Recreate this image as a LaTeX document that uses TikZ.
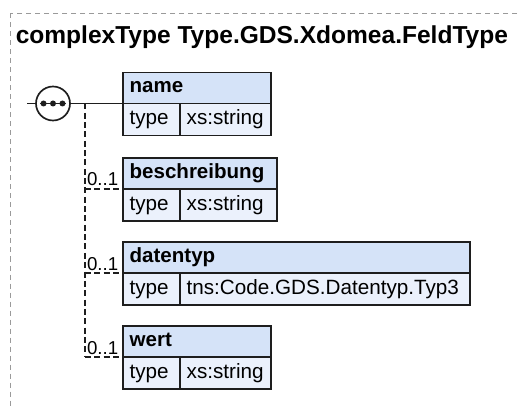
\documentclass[tikz,border=0pt]{standalone}
\usepackage{fontspec}
\setmainfont{Liberation Sans}
\usepackage{tikz}
\usetikzlibrary{calc}
\definecolor{headblue}{HTML}{D5E3F8}
\definecolor{rowblue}{HTML}{EBF1FC}
\definecolor{rim}{HTML}{1E1E1E}
\definecolor{framegray}{HTML}{9A9A9A}

\begin{document}
\begin{tikzpicture}[x=0.75pt, y=-0.75pt,
  hdr/.style={draw=rim, fill=headblue, line width=1.1pt, anchor=north west,
    minimum height=23.25pt, inner xsep=5pt, inner ysep=0pt, outer sep=0pt,
    align=left, text height=11.25pt, text depth=3.75pt,
    font=\fontsize{15.4}{18}\selectfont\bfseries},
  cell/.style={draw=rim, fill=rowblue, line width=1.1pt, anchor=north west,
    minimum height=24pt, inner xsep=5pt, inner ysep=0pt, outer sep=0pt,
    align=left, text height=11.6pt, text depth=3.9pt,
    font=\fontsize{15.5}{18}\selectfont},
  card/.style={anchor=base east, inner sep=0pt, font=\fontsize{14}{16}\selectfont},
  conn/.style={draw=rim, line width=1.25pt},
  opt/.style={draw=rim, line width=1.1pt, dash pattern=on 4.5pt off 2.5pt}]
  \useasboundingbox (0,0) rectangle (520,409);
  \clip (0,0) rectangle (520,409);

  % Rahmen und Titel
  \draw[framegray, line width=0.75pt, dash pattern=on 3.75pt off 3pt]
    (10,13.5) rectangle (540,430);
  \node[anchor=base west, inner sep=0pt, font=\fontsize{18.4}{22}\selectfont\bfseries]
    (title) at (15.5,43.5) {complexType Type.GDS.Xdomea.FeldType};

  % Element name
  \node[hdr, text width=101pt] (hName) at (123,72.5) {name};
  \node[cell, text width=32.75pt] (tName) at (hName.south west) {type};
  \node[cell, text width=58.25pt] (vName) at (tName.north east) {xs:string};

  % Element beschreibung
  \node[hdr, text width=105.5pt] (hBesch) at (123,158) {beschreibung};
  \node[cell, text width=32.75pt] (tBesch) at (hBesch.south west) {type};
  \node[cell, text width=62.75pt] (vBesch) at (tBesch.north east) {xs:string};

  % Element datentyp
  \node[hdr, text width=250.25pt] (hDaten) at (123,242) {datentyp};
  \node[cell, text width=32.75pt] (tDaten) at (hDaten.south west) {type};
  \node[cell, text width=207.5pt] (vDaten) at (tDaten.north east) {tns:Code.GDS.Datentyp.Typ3};

  % Element wert
  \node[hdr, text width=101pt] (hWert) at (123,326) {wert};
  \node[cell, text width=32.75pt] (tWert) at (hWert.south west) {type};
  \node[cell, text width=58.25pt] (vWert) at (tWert.north east) {xs:string};

  % Sequenz-Symbol
  \node[circle, draw=rim, fill=white, line width=1.25pt, minimum size=25.5pt,
    inner sep=0pt, outer sep=0pt] (seq) at (53,103.5) {};
  \draw[conn] ([xshift=-9.75pt]seq.center) -- ([xshift=9.75pt]seq.center);
  \foreach \dx in {-7.1pt,0pt,7.1pt}
    \fill[rim] ([xshift=\dx]seq.center) circle[radius=2.25pt];

  % Verbindungen
  \coordinate (stub) at (27,103.5);
  \coordinate (spine) at (85,103.5);
  \draw[conn] (stub) -- (seq.west);
  \draw[conn] (seq.east) -- (hName.south west);
  \draw[opt] (spine) -- (spine |- hWert.south west);
  \draw[opt] (spine |- hBesch.south west) -- (hBesch.south west);
  \draw[opt] (spine |- hDaten.south west) -- (hDaten.south west);
  \draw[opt] (spine |- hWert.south west) -- (hWert.south west);

  % Kardinalitaeten
  \node[card] (cBesch) at ($(hBesch.south west)+(-4.5,-3)$) {0..1};
  \node[card] (cDaten) at ($(hDaten.south west)+(-4.5,-3)$) {0..1};
  \node[card] (cWert) at ($(hWert.south west)+(-4.5,-3)$) {0..1};
\end{tikzpicture}
\end{document}
